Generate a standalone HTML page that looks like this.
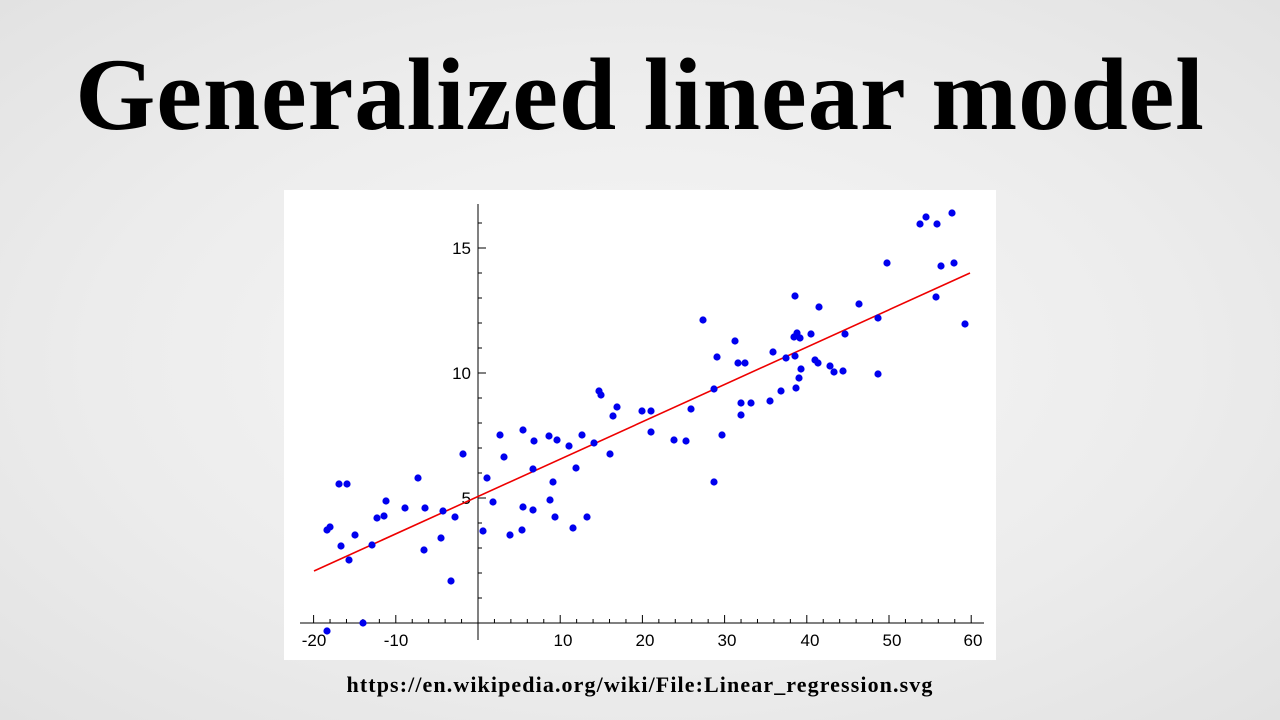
<!DOCTYPE html>
<html><head><meta charset="utf-8"><style>
html,body{margin:0;padding:0;}
body{width:1280px;height:720px;overflow:hidden;background:radial-gradient(ellipse at center,#f7f7f7 0%,#ececec 60%,#e2e2e2 100%);position:relative;font-family:"Liberation Serif",serif;}
.title{position:absolute;left:0;width:1280px;top:35px;text-align:center;font-weight:bold;font-size:103px;line-height:120px;color:#000;letter-spacing:0.9px;}
.foot{position:absolute;left:0;width:1280px;top:672px;text-align:center;font-weight:bold;font-size:22px;color:#000;letter-spacing:1.1px;}
svg{position:absolute;left:0;top:0;}
</style></head><body>
<div class="title">Generalized linear model</div>
<svg width="1280" height="720">
<rect x="284" y="190" width="712" height="470" fill="#fff"/>
<g stroke="#000" stroke-width="1">
<line x1="478" y1="204" x2="478" y2="640"/>
<line x1="300" y1="623" x2="984" y2="623"/>
</g>
<g stroke="#000" stroke-width="1" id="ticks"></g>
<g font-family="Liberation Sans, sans-serif" font-size="17" fill="#000">
<text x="471" y="254" text-anchor="end">15</text>
<text x="471" y="379" text-anchor="end">10</text>
<text x="471" y="504" text-anchor="end">5</text>
<text x="314" y="646" text-anchor="middle">-20</text>
<text x="396" y="646" text-anchor="middle">-10</text>
<text x="563" y="646" text-anchor="middle">10</text>
<text x="645" y="646" text-anchor="middle">20</text>
<text x="727" y="646" text-anchor="middle">30</text>
<text x="810" y="646" text-anchor="middle">40</text>
<text x="892" y="646" text-anchor="middle">50</text>
<text x="973" y="646" text-anchor="middle">60</text>
</g>
<line x1="314" y1="571" x2="970" y2="273" stroke="#e00" stroke-width="1.6"/>
<g fill="#0000ee" id="pts"></g>
</svg>
<div class="foot">https://en.wikipedia.org/wiki/File:Linear_regression.svg</div>
<script>
var t=document.getElementById('ticks'),s='';
for(var v=-20;v<=60;v+=2){var x=478+v*8.22;var big=v%10==0;s+='<line x1="'+x+'" y1="623" x2="'+x+'" y2="'+(big?615:619)+'"/>';}
for(var v=0;v<=16;v++){var y=623-v*25;var big=v%5==0;s+='<line x1="478" y1="'+y+'" x2="'+(big?486:482)+'" y2="'+y+'"/>';}
t.innerHTML=s;
var p=[[327,530],[330,527],[339,484],[347,484],[341,546],[349,560],[355,535],[363,623],[327,631],[372,545],[377,518],[384,516],[386,501],[405,508],[418,478],[424,550],[425,508],[441,538],[443,511],[451,581],[455,517],[463,454],[483,531],[487,478],[493,502],[500,435],[504,457],[510,535],[523,430],[523,507],[522,530],[533,510],[533,469],[534,441],[549,436],[550,500],[553,482],[555,517],[557,440],[569,446],[573,528],[576,468],[582,435],[587,517],[594,443],[599,391],[601,395],[610,454],[613,416],[617,407],[642,411],[651,411],[651,432],[674,440],[686,441],[691,409],[703,320],[714,482],[714,389],[717,357],[722,435],[735,341],[738,363],[741,403],[741,415],[745,363],[751,403],[770,401],[773,352],[781,391],[786,358],[794,337],[795,296],[795,356],[796,388],[797,333],[799,378],[800,338],[801,369],[811,334],[815,360],[818,363],[819,307],[830,366],[834,372],[843,371],[845,334],[859,304],[878,318],[878,374],[887,263],[920,224],[926,217],[936,297],[937,224],[941,266],[952,213],[954,263],[965,324]];
var h='';p.forEach(function(q){h+='<circle cx="'+q[0]+'" cy="'+q[1]+'" r="3.6"/>';});
document.getElementById('pts').innerHTML=h;
</script>
</body></html>
